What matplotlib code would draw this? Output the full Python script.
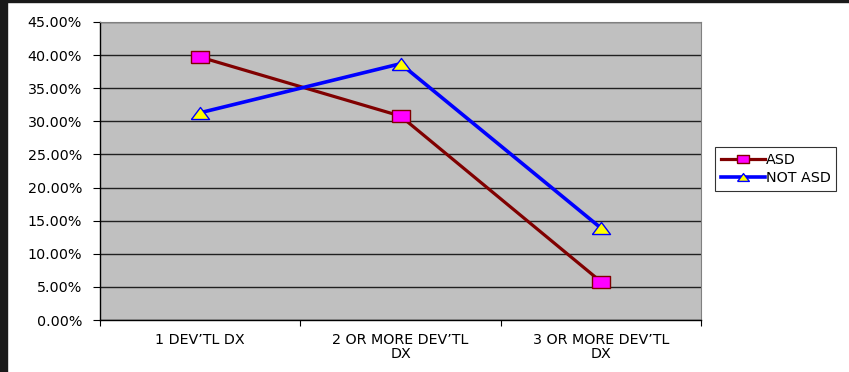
import matplotlib
matplotlib.use("Agg")
import matplotlib.pyplot as plt
from matplotlib.patches import Rectangle
from matplotlib.ticker import FuncFormatter, FixedLocator

categories = ["1 DEV\u2019TL DX", "2 OR MORE DEV\u2019TL\nDX", "3 OR MORE DEV\u2019TL\nDX"]
asd = [0.397, 0.308, 0.058]
not_asd = [0.313, 0.387, 0.139]
y_ticks = [0.0, 0.05, 0.10, 0.15, 0.20, 0.25, 0.30, 0.35, 0.40, 0.45]

plt.rcParams["font.family"] = ["DejaVu Sans"]
FS = 10.3

# wide box and wide triangle markers
wide_square = [(-1.5, -1), (1.5, -1), (1.5, 1), (-1.5, 1), (-1.5, -1)]
wide_triangle = [(-1.5, -1), (1.5, -1), (0, 1), (-1.5, -1)]

fig = plt.figure(figsize=(8.49, 3.72), dpi=100)
fig.patch.set_facecolor("white")
# dark frame on the left and top edges
fig.add_artist(Rectangle((0, 0), 7 / 849, 1, transform=fig.transFigure, color="#1a1a1a", zorder=10))
fig.add_artist(Rectangle((0, 1 - 2 / 372), 1, 2 / 372, transform=fig.transFigure, color="#1a1a1a", zorder=10))

ax = fig.add_axes([100 / 849, 1 - 320 / 372, 601 / 849, 298 / 372])
ax.set_facecolor("#c0c0c0")

x = [0.5, 1.5, 2.5]
ax.plot(x, asd, color="#800000", lw=2.3, marker=wide_square, ms=12.5, mfc="#ff00ff", mec="#800000",
        mew=1, label="ASD", zorder=3)
ax.plot(x, not_asd, color="#0000ff", lw=2.6, marker=wide_triangle, ms=13, mfc="#ffff00", mec="#0000ff",
        mew=1, label="NOT ASD", zorder=3)

ax.set_xlim(0, 3)
ax.set_ylim(0, 0.45)
ax.yaxis.set_major_locator(FixedLocator(y_ticks))
ax.yaxis.set_major_formatter(FuncFormatter(lambda v, p: f"{v * 100:.2f}%"))
ax.grid(axis="y", color="#202020", lw=1)
ax.set_axisbelow(True)

ax.xaxis.set_major_locator(FixedLocator([0, 1, 2, 3]))
ax.set_xticklabels([])
ax.xaxis.set_minor_locator(FixedLocator(x))
ax.set_xticklabels(categories, minor=True, fontsize=FS, linespacing=1.0)
ax.tick_params(axis="x", which="minor", length=0, pad=9)
ax.tick_params(axis="x", which="major", length=4, direction="out", color="black")
ax.tick_params(axis="y", length=5, direction="out", labelsize=FS, color="black", pad=8)

for side in ("top", "right"):
    ax.spines[side].set_color("#808080")
for side in ("left", "bottom"):
    ax.spines[side].set_color("black")
    ax.spines[side].set_linewidth(1)

leg = fig.legend(loc="upper left", bbox_to_anchor=(715 / 849, 1 - 147 / 372), fontsize=FS,
                 frameon=True, fancybox=False, edgecolor="black", borderpad=0.4,
                 handlelength=3.1, handletextpad=0.05, labelspacing=0.3, borderaxespad=0,
                 markerscale=0.65)
leg.get_frame().set_linewidth(0.8)

fig.savefig("out.png", dpi=100, facecolor="white")
